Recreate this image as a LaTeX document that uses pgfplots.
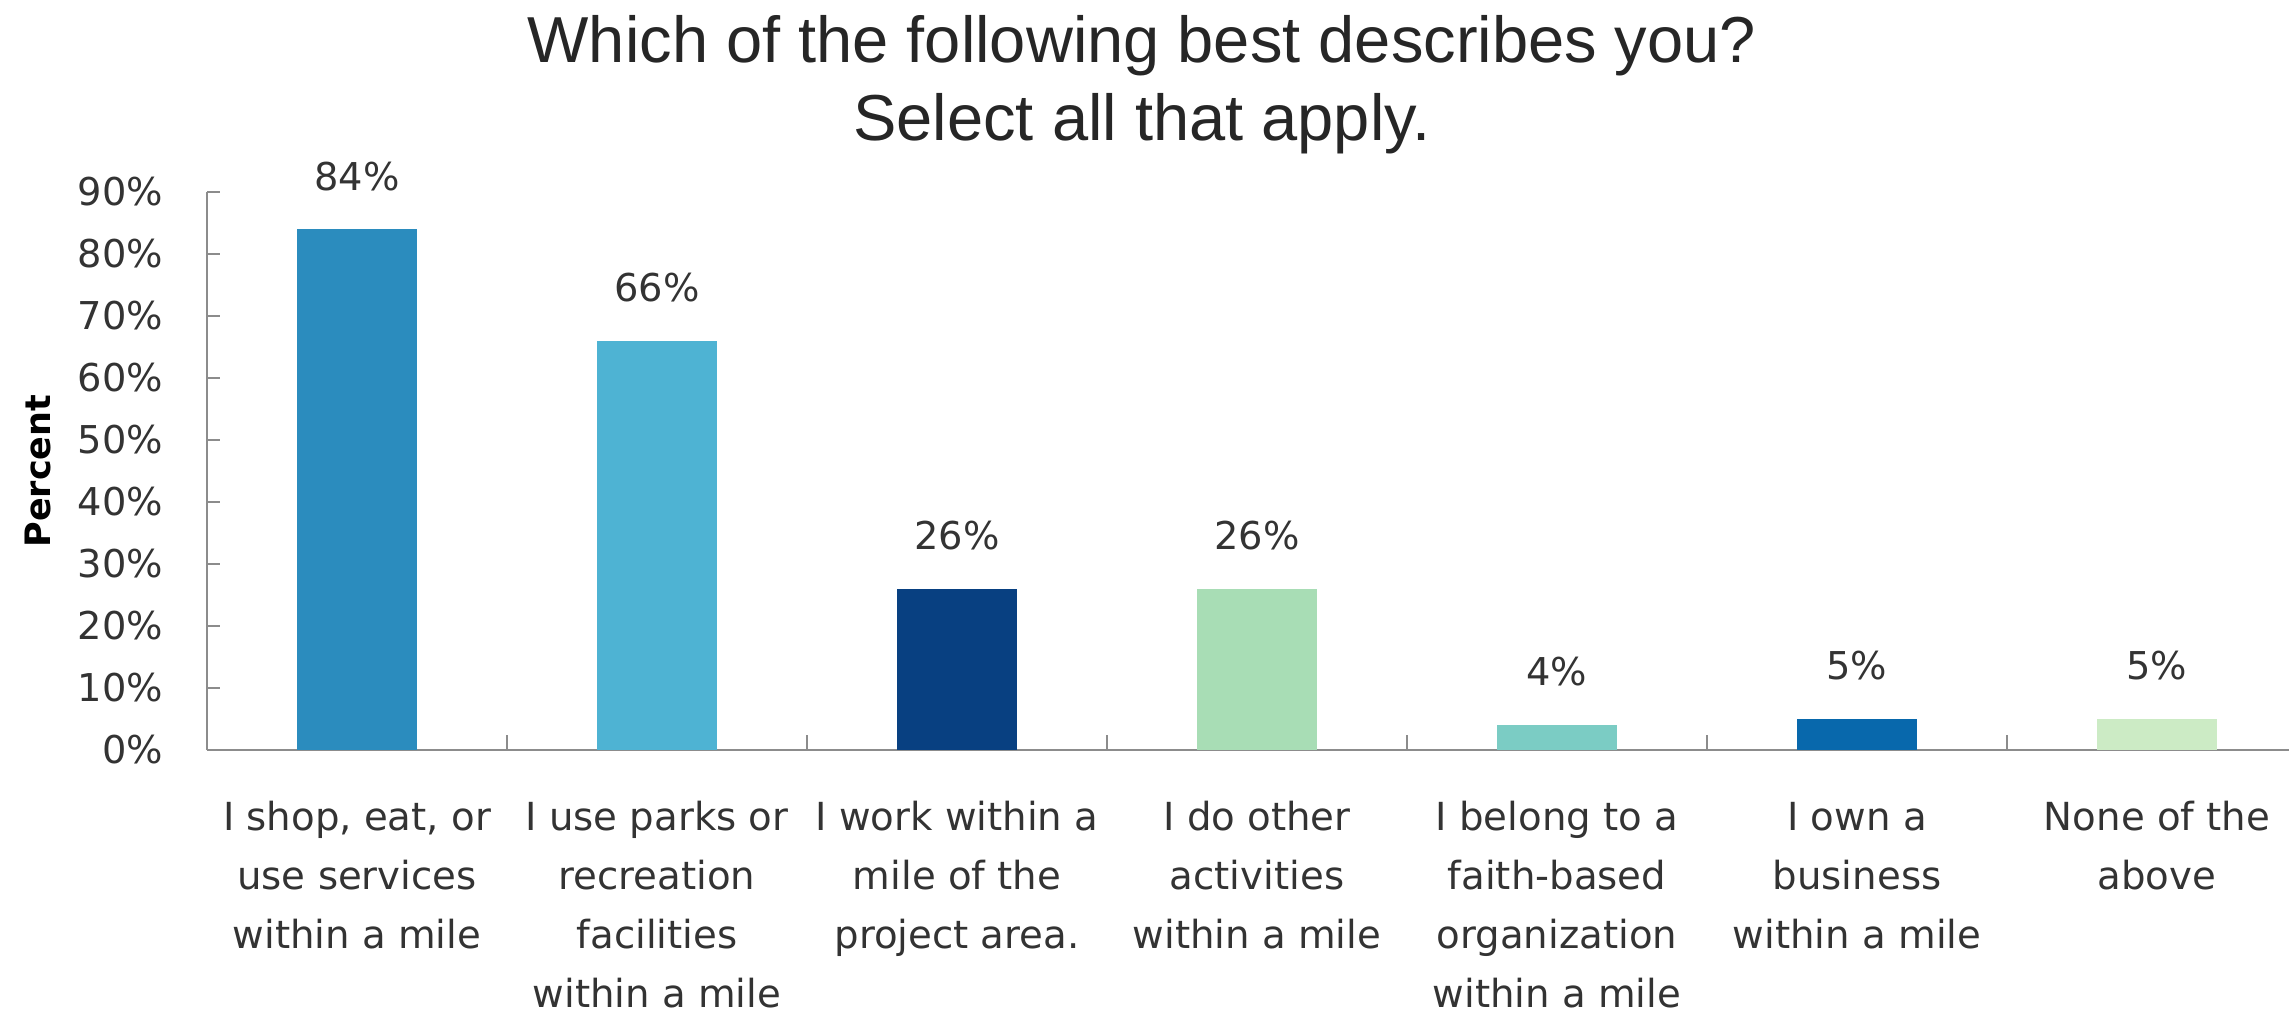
\documentclass[border=0pt]{standalone}
\usepackage{pgfplots}
\pgfplotsset{compat=1.18}
\usepackage{fontspec}
\setmainfont{DejaVu Sans}
\newfontfamily\titlefont{Liberation Sans}
\definecolor{c1}{HTML}{2B8CBE}
\definecolor{c2}{HTML}{4EB3D3}
\definecolor{c3}{HTML}{084081}
\definecolor{c4}{HTML}{A8DDB5}
\definecolor{c5}{HTML}{7BCCC4}
\definecolor{c6}{HTML}{0868AC}
\definecolor{c7}{HTML}{CCEBC5}
\definecolor{axgray}{HTML}{8C8C8C}
\definecolor{txt}{HTML}{333333}
\begin{document}
\begin{tikzpicture}
\useasboundingbox (-62.1pt,-79.5pt) rectangle (624.6pt,225pt);
\begin{axis}[
  at={(0pt,0pt)}, anchor=south west,
  scale only axis, width=624.6pt, height=167.4pt,
  clip=false,
  xmin=-0.5, xmax=6.44, ymin=0, ymax=90,
  axis x line=bottom, axis y line=left,
  axis line style={-, draw=axgray, line width=0.8pt},
  ybar, bar width=36pt, bar shift=0pt,
  xtick={0,...,6},
  xticklabels={{I shop, eat, or\\use services\\within a mile},
    {I use parks or\\recreation\\facilities\\within a mile},
    {I work within a\\mile of the\\project area.},
    {I do other\\activities\\within a mile},
    {I belong to a\\faith-based\\organization\\within a mile},
    {I own a\vphantom{l}\\business\\within a mile},
    {None of the\\above}},
  minor x tick num=1,
  ytick={0,10,...,90},
  tick align=inside,
  major tick length=4pt, minor tick length=4.5pt,
  tick style={draw=axgray, line width=0.8pt},
  every major x tick/.append style={draw=none},
  /pgf/number format/assume math mode=true,
  yticklabel={\pgfmathprintnumber{\tick}\%},
  yticklabel style={font=\fontsize{11.5}{13}\selectfont, text=txt, anchor=east, inner sep=0pt, xshift=-13pt},
  xticklabel style={font=\fontsize{11.6}{17.7}\selectfont, text=txt, align=center, anchor=north, inner sep=0pt, yshift=-15pt},
  ylabel={Percent},
  ylabel style={font=\bfseries\fontsize{10.5}{12}\selectfont, text=black, at={(axis description cs:-0.0812,0.5)}, anchor=center},
  nodes near coords={\pgfmathprintnumber{\pgfplotspointmeta}\%},
  every node near coord/.append style={font=\fontsize{11.5}{13}\selectfont, text=txt, anchor=south, inner sep=0pt, yshift=11.4pt},
]
\addplot[fill=c1, draw=none] coordinates {(0,84)};
\addplot[fill=c2, draw=none] coordinates {(1,66)};
\addplot[fill=c3, draw=none] coordinates {(2,26)};
\addplot[fill=c4, draw=none] coordinates {(3,26)};
\addplot[fill=c5, draw=none] coordinates {(4,4)};
\addplot[fill=c6, draw=none] coordinates {(5,5)};
\addplot[fill=c7, draw=none] coordinates {(6,5)};
\node[font=\titlefont\fontsize{19.5}{23}\selectfont, text=black!85, anchor=base, yshift=39pt] at (axis description cs:0.449,1) {Which of the following best describes you?};
\node[font=\titlefont\fontsize{19.5}{23}\selectfont, text=black!85, anchor=base, yshift=15.6pt] at (axis description cs:0.449,1) {Select all that apply.};
\end{axis}
\end{tikzpicture}
\end{document}
